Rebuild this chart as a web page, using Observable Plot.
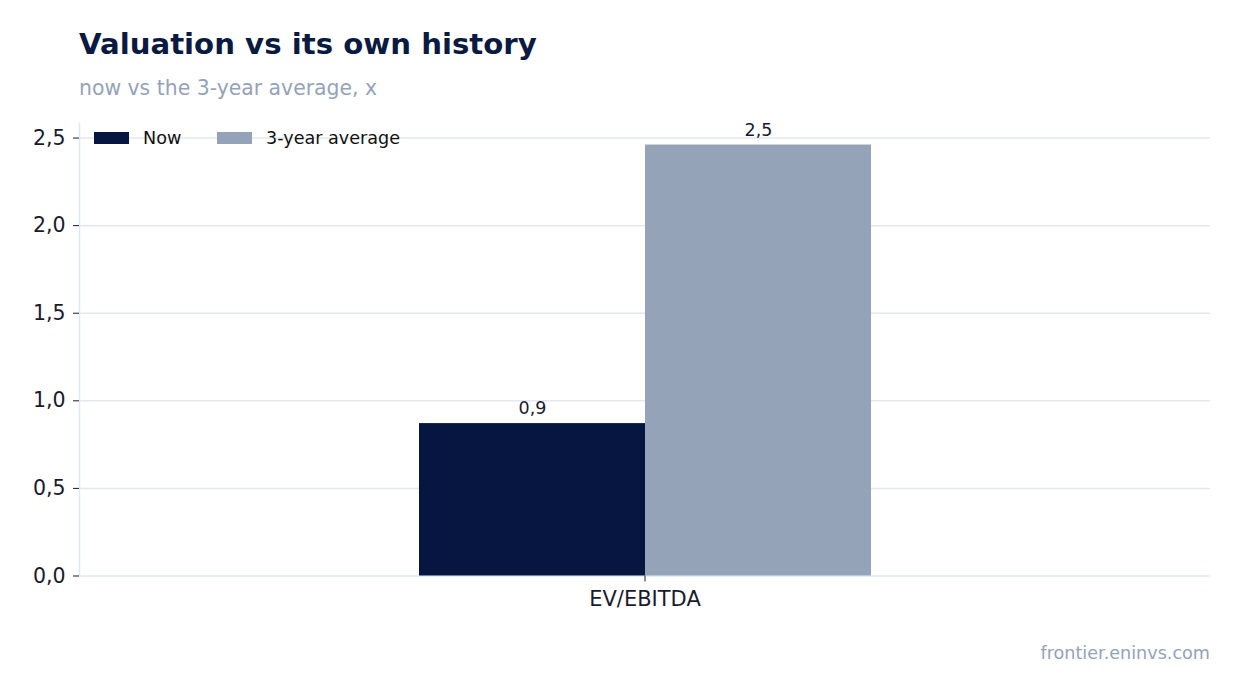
<!DOCTYPE html>
<html>
<head>
<meta charset="utf-8">
<script src="https://cdn.jsdelivr.net/npm/d3@7"></script>
<script src="https://cdn.jsdelivr.net/npm/@observablehq/plot@0.6"></script>
<style>
  html, body { margin: 0; padding: 0; background: #fff; }
  body { width: 1241px; height: 693px; position: relative; font-family: "DejaVu Sans", sans-serif; overflow: hidden; }
  .abs { position: absolute; white-space: nowrap; }
  #title { left: 79px; top: 30px; font-size: 29.2px; line-height: 29px; font-weight: bold; color: #0a1a40; }
  #subtitle { left: 79px; top: 78px; font-size: 20.4px; line-height: 20px; color: #94a3b8; }
  #caption { right: 31px; top: 644px; font-size: 17.6px; line-height: 18px; color: #94a3b8; }
  #chart { position: absolute; left: 0; top: 110px; }
  .legend { position: absolute; top: 129px; font-size: 17.6px; line-height: 18px; color: #111; display: flex; align-items: center; }
  .sw { display: inline-block; width: 35px; height: 12px; margin-right: 14px; }
</style>
</head>
<body>
<div id="title" class="abs">Valuation vs its own history</div>
<div id="subtitle" class="abs">now vs the 3-year average, x</div>
<div id="chart"></div>
<div id="legend"></div>
<div id="caption" class="abs">frontier.eninvs.com</div>
<script>
const categories = ["EV/EBITDA"];
const seriesNames = ["Now", "3-year average"];
const nowValues = [0.87];
const avgValues = [2.46];
const yTicks = [0, 0.5, 1.0, 1.5, 2.0, 2.5];
const colors = ["#061641", "#94a3b8"];

const data = [];
categories.forEach((c, i) => {
  data.push({category: c, series: seriesNames[0], value: nowValues[i]});
  data.push({category: c, series: seriesNames[1], value: avgValues[i]});
});

const fmt = v => d3.format(".1f")(v).replace(".", ",");
const yMax = d3.max(data, d => d.value) * 1.05;

const chart = Plot.plot({
  width: 1241,
  height: 510,
  marginLeft: 79,
  marginRight: 31,
  marginTop: 13,
  marginBottom: 44.5,
  style: {fontFamily: "DejaVu Sans, sans-serif", background: "transparent"},
  fx: {domain: categories, padding: 0, axis: null},
  x: {domain: seriesNames, paddingInner: 0, paddingOuter: 1.5, axis: null},
  y: {domain: [0, yMax], nice: false, axis: null},
  color: {domain: seriesNames, range: colors},
  marks: [
    Plot.gridY(yTicks, {stroke: "#e2e8f0", strokeOpacity: 1, strokeWidth: 1.5}),
    Plot.frame({anchor: "left", stroke: "#e2e8f0", strokeWidth: 1.5}),
    Plot.barY(data, {fx: "category", x: "series", y: "value", fill: "series", inset: 0}),
    Plot.text(data, {fx: "category", x: "series", y: "value", text: d => fmt(d.value), dy: -15, fontSize: 17.5, fill: "#1a1a2e"}),
    Plot.axisY(yTicks, {tickSize: 6, tickPadding: 8, tickFormat: fmt, fontSize: 20.5, color: "#1a1a2e", stroke: "#1a1a2e", label: null}),
    Plot.axisFx({anchor: "bottom", tickSize: 6, tickPadding: 9, fontSize: 21, color: "#1a1a2e", label: null})
  ]
});
document.getElementById("chart").appendChild(chart);

const legend = document.getElementById("legend");
const legendX = [94, 217];
seriesNames.forEach((s, i) => {
  const item = document.createElement("div");
  item.className = "legend";
  item.style.left = legendX[i] + "px";
  const sw = document.createElement("span");
  sw.className = "sw";
  sw.style.background = colors[i];
  item.appendChild(sw);
  item.appendChild(document.createTextNode(s));
  legend.appendChild(item);
});
</script>
</body>
</html>
